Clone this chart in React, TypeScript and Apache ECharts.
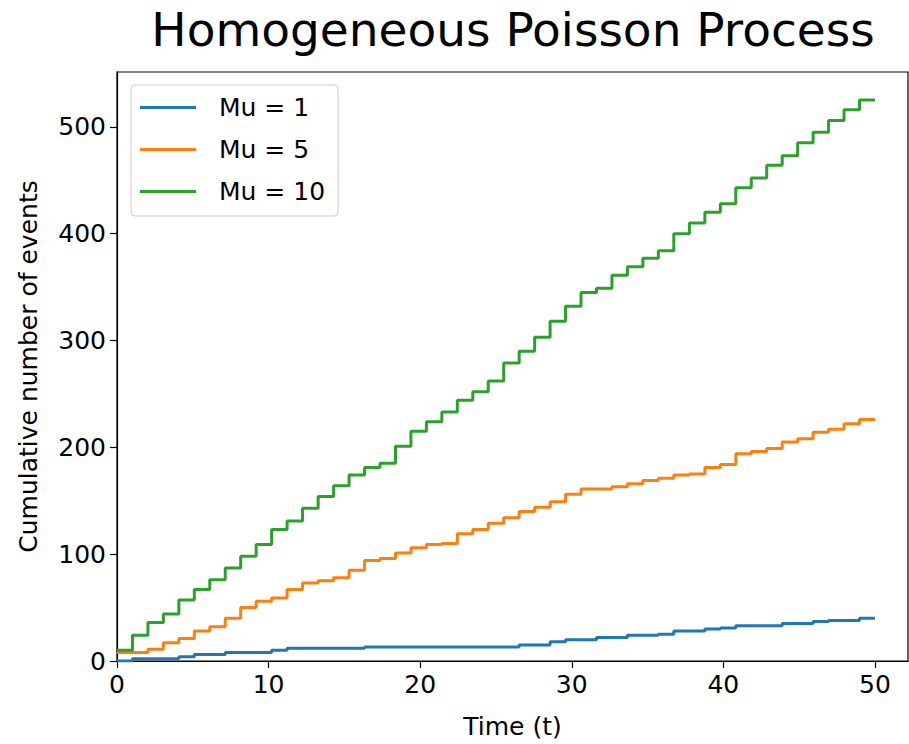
import React, { useEffect, useRef } from "react";
import * as echarts from "echarts";

const times = [
  0, 1.02, 2.04, 3.06, 4.08, 5.1, 6.12, 7.14, 8.16, 9.18, 10.2, 11.22, 12.24, 13.27, 14.29, 15.31, 16.33,
  17.35, 18.37, 19.39, 20.41, 21.43, 22.45, 23.47, 24.49, 25.51, 26.53, 27.55, 28.57, 29.59, 30.61, 31.63,
  32.65, 33.67, 34.69, 35.71, 36.73, 37.76, 38.78, 39.8, 40.82, 41.84, 42.86, 43.88, 44.9, 45.92, 46.94,
  47.96, 48.98, 50.0,
];

const mu1 = [
  0, 0, 2, 2, 2, 4, 6, 6, 8, 8, 8, 10, 12, 12, 12, 12, 12, 13, 13, 13, 13, 13, 13, 13, 13, 13, 13, 15, 15, 18,
  20, 20, 22, 22, 24, 24, 25, 28, 28, 30, 31, 33, 33, 33, 35, 35, 37, 38, 38, 40,
];

const mu5 = [
  8, 8, 8, 11, 17, 21, 28, 32, 40, 50, 56, 59, 67, 73, 75, 78, 85, 94, 96, 101, 106, 109, 110, 119, 123, 129,
  134, 140, 144, 149, 156, 161, 161, 163, 166, 169, 171, 174, 175, 181, 184, 194, 196, 199, 205, 208, 214, 217,
  222, 226,
];

const mu10 = [
  10, 10, 24, 36, 44, 57, 67, 76, 87, 98, 109, 123, 131, 143, 154, 164, 174, 181, 185, 201, 215, 224, 233, 244,
  252, 262, 279, 290, 303, 318, 332, 345, 349, 361, 369, 377, 384, 400, 410, 420, 428, 443, 452, 464, 473, 485,
  495, 506, 516, 525,
];

const seriesNames = ["Mu = 1", "Mu = 5", "Mu = 10"];
const seriesColors = ["#1f77b4", "#ff7f0e", "#2ca02c"];
const xTicks = [0, 10, 20, 30, 40, 50];
const yTicks = [0, 100, 200, 300, 400, 500];

const FONT = "DejaVu Sans";

export default function App() {
  const ref = useRef<HTMLDivElement>(null);
  useEffect(() => {
    if (!ref.current) return;
    const chart = echarts.init(ref.current, undefined, { renderer: "svg" });
    const allData = [mu1, mu5, mu10];
    chart.setOption({
      animation: false,
      backgroundColor: "#fff",
      textStyle: { fontFamily: FONT, color: "#000" },
      graphic: [
        {
          type: "text",
          x: 513,
          y: 29,
          style: {
            text: "Homogeneous Poisson Process",
            fontSize: 47,
            fontFamily: FONT,
            fill: "#000",
            textAlign: "center",
            textVerticalAlign: "middle",
          },
        },
      ],
      grid: {
        left: 117,
        top: 72,
        width: 791,
        height: 591,
        show: true,
        borderColor: "#000",
        borderWidth: 1.2,
        containLabel: false,
      },
      legend: {
        orient: "vertical",
        left: 131,
        top: 85,
        padding: [10, 13, 12, 9],
        backgroundColor: "rgba(255,255,255,0.8)",
        borderColor: "#cccccc",
        borderWidth: 1,
        borderRadius: 4,
        icon: "rect",
        itemWidth: 56,
        itemHeight: 3,
        itemGap: 17,
        textStyle: { fontSize: 25, fontFamily: FONT, color: "#000", padding: [0, 0, 0, 18] },
        data: seriesNames,
      },
      xAxis: {
        type: "value",
        min: 0,
        max: 52.18,
        name: "Time (t)",
        nameLocation: "middle",
        nameGap: 53,
        nameTextStyle: { fontSize: 25, fontFamily: FONT, color: "#000" },
        axisLine: { show: true, onZero: false, lineStyle: { color: "#000", width: 1.2 } },
        axisTick: { show: true, length: 7, customValues: xTicks, lineStyle: { color: "#000", width: 1.2 } },
        axisLabel: { customValues: xTicks, fontSize: 25, fontFamily: FONT, color: "#000", margin: 11 },
        splitLine: { show: false },
      },
      yAxis: {
        type: "value",
        min: 0,
        max: 551.3,
        name: "Cumulative number of events",
        nameLocation: "middle",
        nameGap: 76,
        nameTextStyle: { fontSize: 25, fontFamily: FONT, color: "#000" },
        axisLine: { show: true, onZero: false, lineStyle: { color: "#000", width: 1.2 } },
        axisTick: { show: true, length: 7, customValues: yTicks, lineStyle: { color: "#000", width: 1.2 } },
        axisLabel: { customValues: yTicks, fontSize: 25, fontFamily: FONT, color: "#000", margin: 11 },
        splitLine: { show: false },
      },
      series: allData.map((vals, i) => ({
        name: seriesNames[i],
        type: "line",
        step: "start",
        showSymbol: false,
        symbol: "none",
        color: seriesColors[i],
        lineStyle: { width: 3, color: seriesColors[i] },
        data: vals.map((v, k) => [times[k], v]),
      })),
    });
    return () => chart.dispose();
  }, []);
  return (
    <div
      ref={ref}
      style={{ position: "fixed", left: 0, top: 0, width: 909, height: 744, background: "#fff" }}
    />
  );
}
